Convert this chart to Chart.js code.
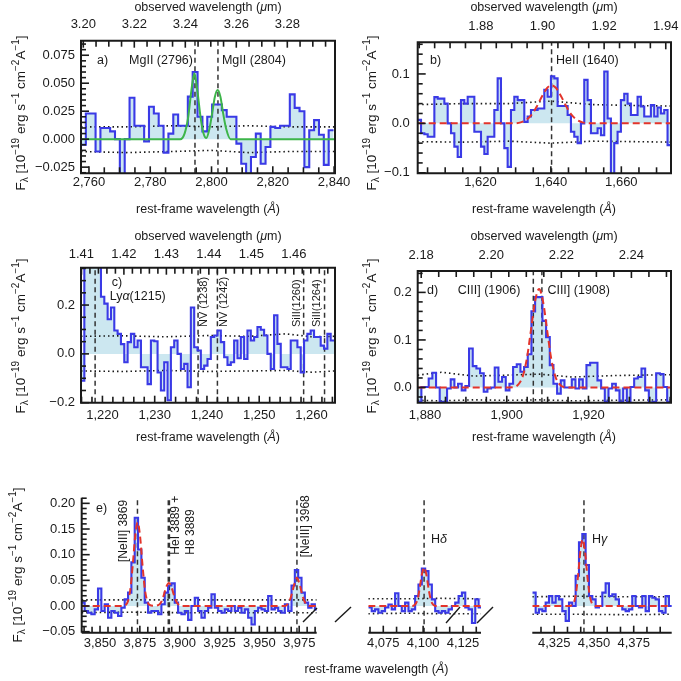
<!DOCTYPE html>
<html lang="en">
<head>
<meta charset="utf-8">
<title>Emission line spectra</title>
<script src="https://cdn.jsdelivr.net/npm/chart.js@4.4.1/dist/chart.umd.min.js"></script>
<style>
  html, body { margin: 0; padding: 0; background: #ffffff; }
  #figure { position: relative; width: 681px; height: 681px; overflow: hidden; background: #ffffff; }
  #figure canvas { position: absolute; }
</style>
</head>
<body>
<div id="figure">
  <canvas id="panelA" width="362" height="222" style="left:0px;top:0px"></canvas>
  <canvas id="panelB" width="336" height="222" style="left:345px;top:0px"></canvas>
  <canvas id="panelC" width="362" height="228" style="left:0px;top:222px"></canvas>
  <canvas id="panelD" width="336" height="228" style="left:345px;top:222px"></canvas>
  <canvas id="panelE1" width="330" height="231" style="left:0px;top:450px"></canvas>
  <canvas id="panelE2" width="220" height="231" style="left:290px;top:450px"></canvas>
  <canvas id="panelE3" width="171" height="231" style="left:510px;top:450px"></canvas>
</div>
<script>
// ---- a) MgII ----
const aRestRange = [2757.4, 2840.3];
const aObsRange = [3.1991, 3.2987];
const aFluxRange = [-0.0305, 0.088];
const aRestTicks = [2760, 2780, 2800, 2820, 2840];
const aObsTicks = [3.20, 3.22, 3.24, 3.26, 3.28];
const aFluxTicks = [-0.025, 0, 0.025, 0.05, 0.075];
const aBinStart = 2757.4, aBinWidth = 1.585;
const aFlux = [
  -0.005, 0.023, 0.023, -0.011, 0.010, 0.010, 0.007, 0.000, -0.035, 0.000,
  0.037, 0.012, 0.012, -0.002, 0.029, 0.023, 0.012, -0.012, 0.005, 0.022,
  0.012, 0.012, 0.038, 0.060, 0.020, 0.007, 0.020, 0.031, 0.031, 0.026,
  0.020, 0.020, -0.004, -0.022, -0.031, -0.016, 0.005, -0.022, -0.007, 0.011,
  0.010, 0.012, 0.012, 0.040, 0.028, 0.025, -0.025, 0.008, 0.017, 0.004,
  -0.023, 0.008
];
const aLineWaves = [2794.6, 2802.1];
const aFitX = [2757.4, 2789.8, 2791.2, 2792.4, 2793.4, 2794.4, 2795.4, 2796.4, 2797.4, 2798.3,
  2799.3, 2800.2, 2801.1, 2802.0, 2802.9, 2803.8, 2804.8, 2806.2, 2840.3];
const aFitY = [0, 0, 0.005, 0.020, 0.043, 0.059, 0.043, 0.020, 0.005, 0.001,
  0.009, 0.023, 0.038, 0.044, 0.038, 0.023, 0.009, 0, 0];
const aNoiseX = [2757.4, 2772, 2787, 2800, 2812, 2826, 2840.3];
const aNoiseHi = [0.011, 0.011, 0.012, 0.011, 0.012, 0.011, 0.011];
const aNoiseLo = [-0.011, -0.012, -0.011, -0.010, -0.012, -0.011, -0.011];

// ---- b) HeII ----
const bRestRange = [1602.2, 1674.1];
const bObsRange = [1.8595, 1.9417];
const bFluxRange = [-0.101, 0.164];
const bRestTicks = [1620, 1640, 1660];
const bObsTicks = [1.88, 1.90, 1.92, 1.94];
const bFluxTicks = [-0.1, 0, 0.1];
const bBinStart = 1602.2, bBinWidth = 0.9456;
const bFlux = [
  0.007, -0.020, -0.022, -0.027, -0.027, 0.053, 0.050, 0.050, 0.040, 0.000,
  -0.020, -0.047, -0.068, 0.047, 0.040, 0.054, 0.054, -0.017, -0.017, -0.047,
  -0.062, -0.027, -0.027, 0.027, 0.091, 0.000, -0.050, -0.088, 0.027, 0.054,
  0.047, 0.047, 0.003, 0.014, 0.027, 0.027, 0.030, 0.030, 0.068, 0.054,
  0.095, 0.091, 0.035, 0.035, 0.035, 0.017, -0.017, -0.027, -0.040, 0.000,
  0.088, 0.047, -0.020, -0.020, -0.010, -0.024, 0.105, 0.010, -0.105, -0.040,
  -0.017, 0.047, 0.060, 0.040, 0.017, 0.017, 0.054, 0.034, 0.014, 0.014,
  0.037, 0.014, 0.032, 0.020, 0.027, -0.044
];
const bLineWaves = [1640.2];
const bFitX = [1602.2, 1629, 1631.4, 1633, 1634.5, 1636, 1637.5, 1639, 1640.2, 1641.4,
  1642.9, 1644.4, 1645.9, 1647.4, 1649, 1651.4, 1674.1];
const bFitY = [0, 0, 0.002, 0.007, 0.017, 0.034, 0.055, 0.072, 0.077, 0.072,
  0.055, 0.034, 0.017, 0.007, 0.002, 0, 0];
const bNoiseX = [1602.2, 1615, 1628, 1640, 1652, 1664, 1674.1];
const bNoiseHi = [0.038, 0.040, 0.040, 0.045, 0.038, 0.036, 0.035];
const bNoiseLo = [-0.037, -0.038, -0.036, -0.040, -0.036, -0.037, -0.038];

// ---- c) Lya, NV, SiII ----
const cRestRange = [1215.9, 1264.5];
const cObsRange = [1.4099, 1.4697];
const cFluxRange = [-0.2, 0.353];
const cRestTicks = [1220, 1230, 1240, 1250, 1260];
const cObsTicks = [1.41, 1.42, 1.43, 1.44, 1.45, 1.46];
const cFluxTicks = [-0.2, 0, 0.2];
const cBinStart = 1215.9, cBinWidth = 0.637;
const cFlux = [
  -0.11, 0.6, 0.6, 0.6, 0.5, 0.4, 0.234, 0.206, 0.142, 0.19,
  0.096, 0.082, 0.04, -0.034, 0.048, 0.082, 0.027, 0.055, -0.055, -0.055,
  -0.124, 0.055, 0.052, -0.076, -0.15, -0.034, -0.19, 0.027, 0.055, 0.0,
  -0.062, -0.041, -0.137, 0.19, 0.027, 0.014, -0.062, -0.048, -0.021, 0.069,
  0.075, 0.096, 0.048, -0.014, -0.045, -0.034, 0.055, -0.018, 0.069, -0.021,
  0.096, 0.055, 0.069, 0.11, 0.099, 0.075, 0.0, -0.062, 0.158, 0.041,
  -0.055, -0.055, -0.062, 0.055, 0.055, 0.027, -0.076, 0.055, 0.082, 0.096,
  0.069, 0.069, 0.034, 0.021, 0.082, 0.055
];
const cLineWaves = [1218.6, 1238.3, 1242.0, 1258.5, 1262.5];
const cNoiseX = [1215.9, 1224, 1232, 1240, 1248, 1255, 1260, 1264.5];
const cNoiseHi = [0.072, 0.074, 0.070, 0.075, 0.072, 0.082, 0.070, 0.072];
const cNoiseLo = [-0.070, -0.072, -0.068, -0.072, -0.070, -0.068, -0.075, -0.070];

// ---- d) CIII] ----
const dRestRange = [1878.2, 1940.2];
const dObsRange = [2.179, 2.2513];
const dFluxRange = [-0.032, 0.245];
const dRestTicks = [1880, 1900, 1920];
const dObsTicks = [2.18, 2.20, 2.22, 2.24];
const dFluxTicks = [0, 0.1, 0.2];
const dBinStart = 1878.2, dBinWidth = 0.898;
const dFlux = [
  -0.03, 0.001, 0.001, 0.019, 0.031, 0.0, -0.03, -0.03, -0.002, 0.017,
  0.0, 0.008, -0.006, 0.003, 0.082, 0.045, 0.04, 0.03, -0.009, -0.002,
  0.0, 0.042, 0.012, 0.022, -0.006, 0.008, 0.043, 0.049, 0.033, 0.043,
  0.07, 0.16, 0.19, 0.19, 0.14, 0.106, 0.047, 0.008, -0.013, 0.015,
  0.0, 0.0, 0.017, -0.002, 0.017, -0.002, 0.047, 0.052, 0.052, 0.015,
  -0.002, -0.03, -0.002, 0.008, -0.006, -0.03, -0.002, -0.03, 0.001, 0.019,
  0.022, 0.04, -0.006, -0.032, -0.03, 0.03, 0.028, 0.001, -0.03
];
const dLineWaves = [1906.5, 1908.6];
const dFitX = [1878.2, 1900.5, 1901.9, 1902.9, 1903.9, 1904.9, 1905.9, 1906.9, 1907.9, 1908.9,
  1909.9, 1910.9, 1911.9, 1912.9, 1913.9, 1916, 1940.2];
const dFitY = [0, 0, 0.001, 0.007, 0.023, 0.060, 0.119, 0.180, 0.207, 0.180,
  0.119, 0.060, 0.023, 0.007, 0.001, 0, 0];
const dNoiseX = [1878.2, 1884, 1892, 1900, 1908, 1916, 1926, 1940.2];
const dNoiseHi = [0.026, 0.032, 0.024, 0.026, 0.028, 0.022, 0.025, 0.027];
const dNoiseLo = [-0.027, -0.028, -0.026, -0.027, -0.026, -0.028, -0.027, -0.026];

// ---- e) optical lines, broken axis ----
const eFluxRange = [-0.052, 0.211];
const eFluxTicks = [-0.05, 0, 0.05, 0.10, 0.15, 0.20];

const e1RestRange = [3838.5, 3986];
const e1RestTicks = [3850, 3875, 3900, 3925, 3950, 3975];
const e1BinStart = 3838.27, e1BinWidth = 2.094;
const e1Flux = [
  0.0065, -0.0098, -0.013, -0.016, -0.0065, 0.034, -0.0098, 0.0033, -0.023, -0.0098,
  -0.013, -0.0195, -0.0033, 0.013, 0.026, 0.085, 0.172, 0.11, 0.055, 0.0065,
  -0.013, -0.0098, -0.0098, -0.016, 0.0033, 0.026, 0.040, 0.044, 0.0065, -0.013,
  -0.016, -0.0098, -0.027, 0.0, 0.016, -0.0098, -0.023, -0.0098, -0.0033, 0.023,
  -0.0033, -0.0098, -0.013, -0.0065, -0.0098, 0.0, -0.0098, -0.0033, -0.013, -0.0065,
  -0.023, -0.036, -0.0098, -0.0033, -0.0065, -0.0098, 0.0195, -0.0065, -0.0033, -0.0098,
  -0.013, 0.0033, -0.0098, 0.04, 0.070, 0.055, 0.026, 0.0065, -0.0033, 0.0033,
  -0.0065
];
const e1LineWaves = [3873.5, 3893.2, 3973.6];
const e1FitX = [3838.5, 3864.6, 3866.1, 3867.6, 3869.1, 3870.6, 3872.1, 3873.6, 3875.1, 3876.6,
  3878.1, 3879.6, 3881.1, 3883.7, 3887.2, 3888.7, 3890.2, 3891.7, 3893.2, 3894.7,
  3896.2, 3897.7, 3899.2, 3901, 3966, 3967.6, 3969.1, 3970.6, 3972.1, 3973.6,
  3975.1, 3976.6, 3978.1, 3979.6, 3982, 3986];
const e1FitY = [0, 0, 0.002, 0.010, 0.034, 0.082, 0.137, 0.163, 0.137, 0.082,
  0.034, 0.010, 0.002, 0.0005, 0.003, 0.0095, 0.023, 0.038, 0.045, 0.038,
  0.023, 0.0095, 0.003, 0, 0, 0.003, 0.011, 0.026, 0.044, 0.055,
  0.044, 0.026, 0.011, 0.003, 0, 0];
const e1NoiseX = [3838.5, 3870, 3900, 3940, 3986];
const e1NoiseHi = [0.012, 0.012, 0.012, 0.012, 0.012];
const e1NoiseLo = [-0.013, -0.012, -0.013, -0.013, -0.013];

const e2RestRange = [4065.6, 4136.3];
const e2RestTicks = [4075, 4100, 4125];
const e2BinStart = 4065.64, e2BinWidth = 2.096;
const e2Flux = [
  -0.003, -0.01, -0.0065, -0.013, -0.01, -0.003, 0.003, -0.0065, 0.025, 0.0,
  -0.01, 0.0065, -0.01, -0.0065, 0.0195, 0.042, 0.073, 0.068, 0.042, 0.013,
  -0.01, -0.013, -0.01, -0.013, -0.0065, 0.0, 0.0065, 0.0195, 0.026, -0.003,
  -0.0065, -0.033, 0.013, -0.003
];
const e2LineWaves = [4100.6];
const e2FitX = [4065.6, 4093.1, 4094.6, 4096.1, 4097.6, 4099.1, 4100.6, 4102.1, 4103.6, 4105.1, 4106.6, 4108.1, 4136.3];
const e2FitY = [0, 0, 0.002, 0.009, 0.030, 0.060, 0.075, 0.060, 0.030, 0.009, 0.002, 0, 0];
const e2NoiseX = [4065.6, 4090, 4110, 4136.3];
const e2NoiseHi = [0.014, 0.014, 0.015, 0.014];
const e2NoiseLo = [-0.015, -0.014, -0.015, -0.015];

const e3RestRange = [4311.2, 4398.9];
const e3RestTicks = [4325, 4350, 4375];
const e3BinStart = 4311.22, e3BinWidth = 2.096;
const e3Flux = [
  0.026, -0.013, -0.0065, -0.01, 0.0065, 0.0195, 0.0065, 0.0195, 0.013, -0.01,
  -0.029, 0.0065, 0.0, 0.059, 0.124, 0.14, 0.08, 0.0195, 0.013, -0.003,
  0.0, 0.026, 0.044, 0.0195, 0.023, 0.013, 0.0, -0.0065, -0.01, -0.0065,
  0.0195, 0.0, -0.003, 0.0195, -0.01, 0.0195, 0.016, 0.013, -0.01, -0.013,
  0.0195, 0.0
];
const e3LineWaves = [4343.7];
const e3FitX = [4311.2, 4334.4, 4335.4, 4336.9, 4338.4, 4339.9, 4341.4, 4342.9, 4344.4, 4345.9, 4347.4, 4348.9, 4350.4, 4351.4, 4398.9];
const e3FitY = [0, 0, 0.0005, 0.004, 0.019, 0.056, 0.105, 0.13, 0.105, 0.056, 0.019, 0.004, 0.0005, 0, 0];
const e3NoiseX = [4311.2, 4340, 4370, 4398.9];
const e3NoiseHi = [0.018, 0.019, 0.018, 0.018];
const e3NoiseLo = [-0.016, -0.016, -0.017, -0.016];

// ---- styling ----
const FONT = '"Liberation Sans", Arial, Helvetica, sans-serif';
const INK = '#1a1a1a';
const BLUE = '#3a3ae6';
const FILL = 'rgba(173,216,230,0.62)';
const RED = '#e3342b';
const GREEN = '#3db54a';

const Y_TITLE = [['F'], ['\u03bb', 'sub'], [' [10'], ['\u221219', 'sup'], [' erg s'], ['\u22121', 'sup'],
  [' cm'], ['\u22122', 'sup'], ['A'], ['\u22121', 'sup'], [']']];
const REST_TITLE = [['rest-frame wavelength ('], ['\u00c5', 'i'], [')']];
const OBS_TITLE = [['observed wavelength ('], ['\u03bc', 'i'], ['m)']];

Chart.defaults.font.family = FONT;
Chart.defaults.color = INK;

function steps(start, width, vals) {
  const pts = vals.map((v, i) => ({ x: start + i * width, y: v }));
  pts.push({ x: start + vals.length * width, y: vals[vals.length - 1] });
  return pts;
}
function pairs(xs, ys) { return xs.map((x, i) => ({ x: x, y: ys[i] })); }

const fmtComma = v => String(Math.round(v)).replace(/\B(?=(\d{3})+(?!\d))/g, ',');
const fmtDec = d => v => (v < -1e-9 ? '\u2212' : '') + Math.abs(v).toFixed(d);

function tickMaker(majors, minorStep) {
  return function (s) {
    const lo = s.min, hi = s.max, list = [];
    const n0 = Math.ceil(lo / minorStep - 1e-9), n1 = Math.floor(hi / minorStep + 1e-9);
    for (let n = n0; n <= n1; n++) {
      const v = n * minorStep;
      if (!majors.some(m => Math.abs(m - v) < minorStep * 1e-3)) list.push({ value: v, mj: false });
    }
    majors.filter(m => m >= lo - 1e-9 && m <= hi + 1e-9).forEach(m => list.push({ value: m, mj: true }));
    list.sort((a, b) => a.value - b.value);
    s.ticks = list;
  };
}

function axis(pos, range, majors, minorStep, fmt, pad, size) {
  return {
    type: 'linear', position: pos, min: range[0], max: range[1], offset: false,
    grid: { display: false, drawTicks: false },
    border: { display: false },
    afterBuildTicks: tickMaker(majors, minorStep),
    afterFit: function (s) {
      if (pos === 'left') { s.width = size; s.paddingTop = 0; s.paddingBottom = 0; }
      else { s.height = size; s.paddingLeft = 0; s.paddingRight = 0; }
    },
    ticks: {
      autoSkip: false, maxRotation: 0, minRotation: 0, padding: pad,
      color: INK, font: { size: 13, family: FONT },
      callback: (v, i, ticks) => (ticks[i] && ticks[i].mj ? fmt(v) : '')
    }
  };
}

function drawRich(ctx, parts, x, y, opt) {
  const size = opt.size || 12.5;
  const fonts = parts.map(p => {
    const k = p[1] || '';
    const s = (k === 'sup' || k === 'sub') ? size * 0.74 : size;
    return (k === 'i' ? 'italic ' : '') + s + 'px ' + FONT;
  });
  const widths = parts.map((p, i) => { ctx.font = fonts[i]; return ctx.measureText(p[0]).width; });
  const total = widths.reduce((a, b) => a + b, 0);
  ctx.save();
  ctx.translate(x, y);
  if (opt.rot) ctx.rotate(-Math.PI / 2);
  ctx.fillStyle = INK;
  ctx.textBaseline = 'middle';
  ctx.textAlign = 'left';
  let cx = opt.align === 'center' ? -total / 2 : opt.align === 'right' ? -total : 0;
  parts.forEach((p, i) => {
    const k = p[1] || '';
    ctx.font = fonts[i];
    const dy = k === 'sup' ? -size * 0.36 : k === 'sub' ? size * 0.28 : 0;
    ctx.fillText(p[0], cx, dy);
    cx += widths[i];
  });
  ctx.restore();
}

// decorations per canvas: spines, inward ticks, labels, titles, axis breaks
const deco = {};
Chart.register({
  id: 'deco',
  afterDraw(chart) {
    const d = deco[chart.canvas.id];
    if (!d) return;
    const ctx = chart.ctx, ca = chart.chartArea;
    ctx.save();
    ctx.strokeStyle = INK;
    ctx.lineWidth = 1.6;
    Object.values(chart.scales).forEach(s => {
      if (!s.options.display) return;
      s.ticks.forEach(t => {
        const p = s.getPixelForValue(t.value);
        ctx.beginPath();
        if (s.position === 'bottom') { ctx.moveTo(p, ca.bottom); ctx.lineTo(p, ca.bottom - (t.mj ? 7 : 6)); }
        else if (s.position === 'top') { ctx.moveTo(p, ca.top); ctx.lineTo(p, ca.top + (t.mj ? 7 : 6)); }
        else { ctx.moveTo(ca.left, p); ctx.lineTo(ca.left + (t.mj ? 8 : 5), p); }
        ctx.stroke();
      });
    });
    ctx.lineWidth = 2;
    ctx.beginPath();
    if (d.box) {
      ctx.rect(ca.left, ca.top, ca.right - ca.left, ca.bottom - ca.top);
    } else {
      if (d.leftSpine) { ctx.moveTo(ca.left, ca.top); ctx.lineTo(ca.left, ca.bottom); }
      ctx.moveTo(ca.left, ca.bottom); ctx.lineTo(ca.right, ca.bottom);
    }
    ctx.stroke();
    ctx.lineWidth = 1.4;
    (d.breaks || []).forEach(b => {
      ctx.beginPath();
      ctx.moveTo(b[0] - d.off[0], b[1] - d.off[1]);
      ctx.lineTo(b[2] - d.off[0], b[3] - d.off[1]);
      ctx.stroke();
    });
    const xs = chart.scales.x, ys = chart.scales.y;
    (d.notes || []).forEach(n => {
      drawRich(ctx, n.t, xs.getPixelForValue(n.x) + (n.dx || 0), ys.getPixelForValue(n.y),
        { align: n.align || 'left', rot: n.rot, size: n.size || 12.5 });
    });
    (d.titles || []).forEach(t => {
      drawRich(ctx, t.t, t.x - d.off[0], t.y - d.off[1], { align: 'center', rot: t.rot, size: t.size || 12.5 });
    });
    ctx.restore();
  }
});

function makePanel(p) {
  const yr = p.fluxRange;
  const scales = {
    x: axis('bottom', p.rest, p.restTicks, p.restMinor, fmtComma, p.padBottom, p.hBottom),
    y: p.yWidth
      ? axis('left', yr, p.fluxTicks, p.fluxMinor, fmtDec(p.fluxDec), p.padLeft, p.yWidth)
      : { type: 'linear', display: false, min: yr[0], max: yr[1] }
  };
  if (p.obs) scales.xt = axis('top', p.obs, p.obsTicks, p.obsMinor, fmtDec(2), p.padTop, p.hTop);

  const base = { xAxisID: 'x', yAxisID: 'y', pointRadius: 0, clip: 0, fill: false };
  const datasets = [];
  datasets.push(Object.assign({}, base, {
    data: steps(p.binStart, p.binWidth, p.flux), stepped: true,
    fill: { value: 0 }, backgroundColor: FILL, borderColor: 'rgba(0,0,0,0)', borderWidth: 0, order: 9
  }));
  p.lines.forEach((L, i) => datasets.push(Object.assign({}, base, {
    data: [{ x: L, y: yr[0] }, { x: L, y: yr[1] }],
    borderColor: '#333333', borderWidth: (p.lineWidths ? p.lineWidths[i] : 1.5),
    borderDash: [5, 3.5], order: 6
  })));
  [p.noiseHi, p.noiseLo].forEach(ys => datasets.push(Object.assign({}, base, {
    data: pairs(p.noiseX, ys), borderColor: INK, borderWidth: 1.6, borderDash: [1.5, 3], order: 5
  })));
  datasets.push(Object.assign({}, base, {
    data: steps(p.binStart, p.binWidth, p.flux), stepped: true,
    borderColor: BLUE, borderWidth: 2.1, order: 3
  }));
  if (p.fitX) datasets.push(Object.assign({}, base, {
    data: pairs(p.fitX, p.fitY), borderColor: p.fitColor, borderWidth: 2,
    borderDash: p.fitDash || [], cubicInterpolationMode: 'monotone', order: 1
  }));

  deco[p.id] = { off: p.off, box: p.box, leftSpine: p.leftSpine, notes: p.notes, titles: p.titles, breaks: p.breaks };

  new Chart(document.getElementById(p.id), {
    type: 'line',
    data: { datasets: datasets },
    options: {
      responsive: false, animation: false, devicePixelRatio: 1, events: [],
      layout: { padding: { left: p.yWidth ? 0 : p.padL, top: p.obs ? 0 : p.padT, right: p.padR, bottom: 0 } },
      plugins: { legend: { display: false }, tooltip: { enabled: false } },
      elements: { line: { tension: 0 }, point: { radius: 0 } },
      scales: scales
    }
  });
}

makePanel({
  id: 'panelA', off: [0, 0], box: true,
  rest: aRestRange, restTicks: aRestTicks, restMinor: 5, padBottom: 1, hBottom: 48.7,
  obs: aObsRange, obsTicks: aObsTicks, obsMinor: 0.005, padTop: 8, hTop: 40.7,
  fluxRange: aFluxRange, fluxTicks: aFluxTicks, fluxMinor: 0.005, fluxDec: 3, padLeft: 6, yWidth: 81,
  padR: 27,
  binStart: aBinStart, binWidth: aBinWidth, flux: aFlux,
  lines: aLineWaves, noiseX: aNoiseX, noiseHi: aNoiseHi, noiseLo: aNoiseLo,
  fitX: aFitX, fitY: aFitY, fitColor: GREEN,
  notes: [
    { t: [['a)']], x: 2762.6, y: 0.0707 },
    { t: [['MgII (2796)']], x: aLineWaves[0], dx: -2, y: 0.0707, align: 'right' },
    { t: [['MgII (2804)']], x: aLineWaves[1], dx: 4, y: 0.0707 }
  ],
  titles: [
    { t: REST_TITLE, x: 208, y: 210 },
    { t: OBS_TITLE, x: 208, y: 8 },
    { t: Y_TITLE, x: 21, y: 113, rot: true, size: 13.5 }
  ]
});

makePanel({
  id: 'panelB', off: [345, 0], box: true,
  rest: bRestRange, restTicks: bRestTicks, restMinor: 5, padBottom: 1, hBottom: 48.7,
  obs: bObsRange, obsTicks: bObsTicks, obsMinor: 0.005, padTop: 8.5, hTop: 42.3,
  fluxRange: bFluxRange, fluxTicks: bFluxTicks, fluxMinor: 0.02, fluxDec: 1, padLeft: 8, yWidth: 72.7,
  padR: 10,
  binStart: bBinStart, binWidth: bBinWidth, flux: bFlux,
  lines: bLineWaves, noiseX: bNoiseX, noiseHi: bNoiseHi, noiseLo: bNoiseLo,
  fitX: bFitX, fitY: bFitY, fitColor: RED, fitDash: [7, 4],
  notes: [
    { t: [['b)']], x: 1605.7, y: 0.128 },
    { t: [['HeII (1640)']], x: bLineWaves[0], dx: 4.5, y: 0.128 }
  ],
  titles: [
    { t: REST_TITLE, x: 544, y: 210 },
    { t: OBS_TITLE, x: 544, y: 8 },
    { t: Y_TITLE, x: 372, y: 113, rot: true, size: 13.5 }
  ]
});

makePanel({
  id: 'panelC', off: [0, 222], box: true,
  rest: cRestRange, restTicks: cRestTicks, restMinor: 2, padBottom: 4.5, hBottom: 47.3,
  obs: cObsRange, obsTicks: cObsTicks, obsMinor: 0.002, padTop: 5, hTop: 45.7,
  fluxRange: cFluxRange, fluxTicks: cFluxTicks, fluxMinor: 0.05, fluxDec: 1, padLeft: 6, yWidth: 81,
  padR: 27,
  binStart: cBinStart, binWidth: cBinWidth, flux: cFlux,
  lines: cLineWaves, noiseX: cNoiseX, noiseHi: cNoiseHi, noiseLo: cNoiseLo,
  notes: [
    { t: [['c)']], x: 1221.8, y: 0.294 },
    { t: [['Ly'], ['\u03b1', 'i'], ['(1215)']], x: 1221.4, y: 0.233 },
    { t: [['NV (1238)']], x: cLineWaves[1], dx: 6, y: 0.11, rot: true, size: 11 },
    { t: [['NV (1242)']], x: cLineWaves[2], dx: 7, y: 0.11, rot: true, size: 11 },
    { t: [['SiII(1260)']], x: cLineWaves[3], dx: -7, y: 0.11, rot: true, size: 11 },
    { t: [['SiII(1264)']], x: cLineWaves[4], dx: -7.5, y: 0.11, rot: true, size: 11 }
  ],
  titles: [
    { t: REST_TITLE, x: 208, y: 438 },
    { t: OBS_TITLE, x: 208, y: 237 },
    { t: Y_TITLE, x: 21, y: 336, rot: true, size: 13.5 }
  ]
});

makePanel({
  id: 'panelD', off: [345, 222], box: true,
  rest: dRestRange, restTicks: dRestTicks, restMinor: 5, padBottom: 4.5, hBottom: 47.3,
  obs: dObsRange, obsTicks: dObsTicks, obsMinor: 0.005, padTop: 8, hTop: 49,
  fluxRange: dFluxRange, fluxTicks: dFluxTicks, fluxMinor: 0.02, fluxDec: 1, padLeft: 6, yWidth: 72.7,
  padR: 10,
  binStart: dBinStart, binWidth: dBinWidth, flux: dFlux,
  lines: dLineWaves, noiseX: dNoiseX, noiseHi: dNoiseHi, noiseLo: dNoiseLo,
  fitX: dFitX, fitY: dFitY, fitColor: RED, fitDash: [7, 4],
  notes: [
    { t: [['d)']], x: 1880.5, y: 0.203 },
    { t: [['CIII] (1906)']], x: dLineWaves[0], dx: -13, y: 0.203, align: 'right' },
    { t: [['CIII] (1908)']], x: dLineWaves[1], dx: 5.5, y: 0.203 }
  ],
  titles: [
    { t: REST_TITLE, x: 544, y: 438 },
    { t: OBS_TITLE, x: 544, y: 237 },
    { t: Y_TITLE, x: 372, y: 336, rot: true, size: 13.5 }
  ]
});

makePanel({
  id: 'panelE1', off: [0, 450], box: false, leftSpine: true,
  rest: e1RestRange, restTicks: e1RestTicks, restMinor: 5, padBottom: 3, hBottom: 48.3,
  fluxRange: eFluxRange, fluxTicks: eFluxTicks, fluxMinor: 0.01, fluxDec: 2, padLeft: 6.5, yWidth: 81.7,
  padT: 47.7, padR: 13.3,
  binStart: e1BinStart, binWidth: e1BinWidth, flux: e1Flux,
  lines: e1LineWaves, lineWidths: [1.5, 2.6, 1.5],
  noiseX: e1NoiseX, noiseHi: e1NoiseHi, noiseLo: e1NoiseLo,
  fitX: e1FitX, fitY: e1FitY, fitColor: RED, fitDash: [7, 4],
  notes: [
    { t: [['e)']], x: 3847.5, y: 0.189 },
    { t: [['[NeIII] 3869']], x: e1LineWaves[0], dx: -13.7, y: 0.0858, rot: true, size: 12 },
    { t: [['HeI 3889 +']], x: e1LineWaves[1], dx: 6.7, y: 0.1, rot: true, size: 12 },
    { t: [['H8 3889']], x: e1LineWaves[1], dx: 21.7, y: 0.1, rot: true, size: 12 },
    { t: [['[NeIII] 3968']], x: e1LineWaves[2], dx: 8.3, y: 0.095, rot: true, size: 12 }
  ],
  breaks: [[303, 622, 317, 608]],
  titles: [
    { t: Y_TITLE, x: 18, y: 565, rot: true, size: 13.5 }
  ]
});

makePanel({
  id: 'panelE2', off: [290, 450], box: false,
  rest: e2RestRange, restTicks: e2RestTicks, restMinor: 25 / 3, padBottom: 3, hBottom: 48.3,
  fluxRange: eFluxRange,
  padL: 78.3, padT: 47.7, padR: 29,
  binStart: e2BinStart, binWidth: e2BinWidth, flux: e2Flux,
  lines: e2LineWaves, noiseX: e2NoiseX, noiseHi: e2NoiseHi, noiseLo: e2NoiseLo,
  fitX: e2FitX, fitY: e2FitY, fitColor: RED, fitDash: [7, 4],
  notes: [
    { t: [['H'], ['\u03b4', 'i']], x: e2LineWaves[0], dx: 7, y: 0.1286 }
  ],
  breaks: [[335, 622, 351, 607], [446, 623, 460, 607], [477, 623, 493, 607]],
  titles: [
    { t: REST_TITLE, x: 376.5, y: 670 }
  ]
});

makePanel({
  id: 'panelE3', off: [510, 450], box: false,
  rest: e3RestRange, restTicks: e3RestTicks, restMinor: 25 / 3, padBottom: 3, hBottom: 48.3,
  fluxRange: eFluxRange,
  padL: 22.3, padT: 47.7, padR: 9.3,
  binStart: e3BinStart, binWidth: e3BinWidth, flux: e3Flux,
  lines: e3LineWaves, noiseX: e3NoiseX, noiseHi: e3NoiseHi, noiseLo: e3NoiseLo,
  fitX: e3FitX, fitY: e3FitY, fitColor: RED, fitDash: [7, 4],
  notes: [
    { t: [['H'], ['\u03b3', 'i']], x: e3LineWaves[0], dx: 8, y: 0.1286 }
  ]
});
</script>
</body>
</html>
